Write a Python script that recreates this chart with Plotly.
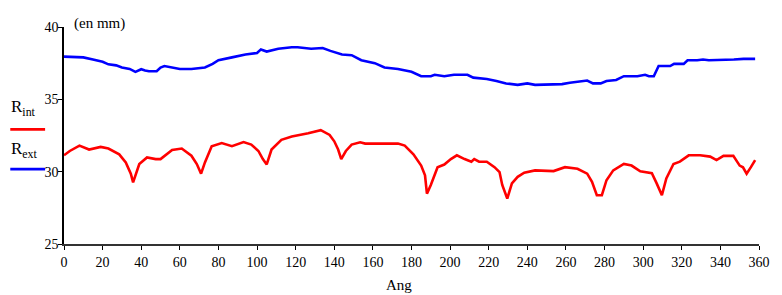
import plotly.graph_objects as go

# R_ext (blue) : angle (deg), radius (mm)
ext_ang = [0, 5, 10, 15, 20, 23, 27, 30, 34, 37, 40, 42, 44, 48, 50, 52, 56, 60, 66, 73,
           77, 80, 87, 94, 100, 102, 105, 108, 111, 118, 121, 128, 134, 138, 144, 149, 154,
           161, 166, 173, 180, 185, 190, 192, 197, 202, 209, 212, 219, 224, 229, 235, 240,
           244, 250, 258, 262, 266, 271, 274, 278, 281, 286, 290, 297, 301, 303, 305.5, 308,
           314, 316, 321, 323, 328, 331, 334, 344, 347, 352, 358]
ext_val = [37.95, 37.92, 37.9, 37.75, 37.6, 37.42, 37.35, 37.2, 37.1, 36.9, 37.08, 37.0,
           36.94, 36.94, 37.2, 37.3, 37.22, 37.1, 37.1, 37.2, 37.45, 37.7, 37.9, 38.1, 38.2,
           38.45, 38.3, 38.4, 38.5, 38.6, 38.6, 38.5, 38.55, 38.35, 38.1, 38.05, 37.7, 37.5,
           37.2, 37.1, 36.9, 36.6, 36.6, 36.7, 36.6, 36.7, 36.7, 36.5, 36.4, 36.27, 36.1,
           36.0, 36.1, 36.0, 36.0, 36.05, 36.15, 36.2, 36.3, 36.1, 36.1, 36.27, 36.34, 36.6,
           36.6, 36.7, 36.6, 36.6, 37.3, 37.3, 37.45, 37.45, 37.7, 37.7, 37.75, 37.7, 37.7,
           37.75, 37.8, 37.8]

# R_int (red)
int_ang = [0, 3, 8, 13, 19, 23, 28.6, 32, 34.6, 35.8, 39, 43, 47.5, 50, 56, 61, 66, 68.8,
           71, 73, 76.5, 81.7, 87, 93, 97, 100.7, 103, 105, 107.5, 112.6, 118, 121, 126.5,
           133, 137.6, 140, 142, 143.6, 146, 149, 153.4, 156, 173, 176.5, 181, 185, 187, 188,
           190, 193.5, 197, 200.4, 203.5, 207.5, 211, 212.5, 215, 219, 223, 225.6, 227, 229.6,
           232, 235, 238.4, 244, 253.6, 259.5, 266, 271, 273.5, 276, 278.6, 281, 284.5, 290,
           294, 298.5, 304.5, 307, 309.7, 312, 315.7, 319, 323.6, 329.5, 334.7, 338, 341.6,
           346.7, 350, 351.7, 353.6, 355.8, 358]
int_val = [31.13, 31.43, 31.8, 31.53, 31.71, 31.6, 31.2, 30.64, 29.86, 29.26, 30.53, 30.98,
           30.87, 30.87, 31.5, 31.6, 31.1, 30.53, 29.86, 30.64, 31.76, 31.98, 31.76, 32.05,
           31.87, 31.43, 30.87, 30.5, 31.53, 32.2, 32.43, 32.5, 32.65, 32.87, 32.54, 32.1,
           31.53, 30.87, 31.43, 31.87, 32.03, 31.94, 31.94, 31.8, 31.2, 30.42, 29.75, 28.48,
           29.08, 30.31, 30.49, 30.87, 31.13, 30.87, 30.69, 30.87, 30.69, 30.69, 30.31, 29.97,
           29.08, 28.14, 29.19, 29.64, 29.93, 30.09, 30.04, 30.31, 30.2, 29.86, 29.3, 28.37,
           28.37, 29.41, 30.09, 30.53, 30.42, 30.02, 29.9, 29.19, 28.37, 29.53, 30.53, 30.69,
           31.13, 31.13, 31.04, 30.8, 31.09, 31.09, 30.42, 30.3, 29.86, 30.31, 30.8]

x_ticks = list(range(0, 361, 20))
y_ticks = [25, 30, 35, 40]

FONT = "'Liberation Serif', 'Times New Roman', Times, serif"

fig = go.Figure()
fig.add_trace(go.Scatter(x=int_ang, y=int_val, mode="lines", name="R_int",
                         line=dict(color="#FF0000", width=2.6)))
fig.add_trace(go.Scatter(x=ext_ang, y=ext_val, mode="lines", name="R_ext",
                         line=dict(color="#0000FF", width=2.6)))

# the page has an 8px body margin, so the figure is sized/placed to compensate
fig.update_layout(
    width=774, height=287,
    margin=dict(l=56, r=19, t=12, b=51),
    plot_bgcolor="white", paper_bgcolor="white",
    showlegend=False,
    font=dict(family=FONT, size=14, color="black"),
)
fig.update_xaxes(range=[0, 360], tickvals=x_ticks, ticks="outside", ticklen=4,
                 tickcolor="black", showline=True, linecolor="#333", linewidth=1.5,
                 showgrid=False, zeroline=False, tickfont=dict(family=FONT, size=14))
fig.update_yaxes(range=[25, 40], tickvals=y_ticks, ticks="outside", ticklen=4,
                 tickcolor="black", showline=True, linecolor="black", linewidth=1.5,
                 showgrid=False, zeroline=False, tickfont=dict(family=FONT, size=14),
                 ticklabelstandoff=-3)

# annotations (paper coords relative to plot area)
fig.add_annotation(text="(en mm)", xref="paper", yref="paper", x=0.011, y=1.015,
                   xanchor="left", yanchor="middle", showarrow=False,
                   font=dict(family=FONT, size=15))
fig.add_annotation(text="Ang", xref="paper", yref="paper", x=0.482, y=-0.19,
                   xanchor="center", yanchor="middle", showarrow=False,
                   font=dict(family=FONT, size=15))
fig.add_annotation(text="R<sub>int</sub>", xref="paper", yref="paper", x=-0.079, y=0.625,
                   xanchor="left", yanchor="middle", showarrow=False,
                   font=dict(family=FONT, size=17))
fig.add_annotation(text="R<sub>ext</sub>", xref="paper", yref="paper", x=-0.079, y=0.435,
                   xanchor="left", yanchor="middle", showarrow=False,
                   font=dict(family=FONT, size=17))
fig.add_shape(type="line", xref="paper", yref="paper", x0=-0.0773, x1=-0.0272,
              y0=0.528, y1=0.528, line=dict(color="#FF0000", width=2.6))
fig.add_shape(type="line", xref="paper", yref="paper", x0=-0.0773, x1=-0.0272,
              y0=0.345, y1=0.345, line=dict(color="#0000FF", width=2.6))

fig.write_html("out.html")
